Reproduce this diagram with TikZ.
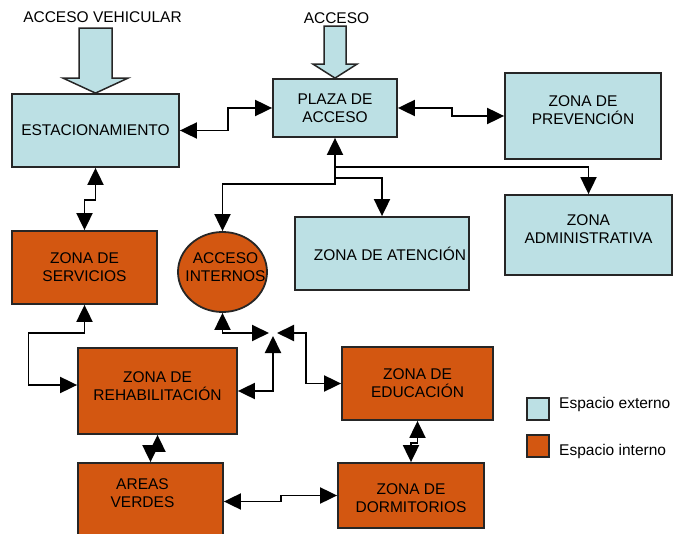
\documentclass[tikz,border=0pt]{standalone}
\usepackage{fontspec}
\setmainfont{Liberation Sans}
\usepackage{xcolor}
\usepackage{tikz}
\usetikzlibrary{arrows.meta,shapes.geometric,calc}
\definecolor{externo}{HTML}{BCE0E4}
\definecolor{interno}{HTML}{D35711}

\begin{document}
\begin{tikzpicture}[
  x=1pt, y=-1pt,
  font=\fontsize{15.5}{18}\selectfont,
  zonebox/.style={draw=black!85, line width=1.8pt, inner sep=0pt, align=center},
  extbox/.style={zonebox, fill=externo},
  intbox/.style={zonebox, fill=interno},
  txt/.style={align=center, inner sep=0pt},
  fatarr/.style={draw=black!85, line width=1.5pt, fill=externo, line join=miter},
  arr/.style={-{Triangle[length=17pt,width=16pt]}, line width=1.9pt},
  darr/.style={{Triangle[length=17pt,width=16pt]}-{Triangle[length=17pt,width=16pt]}, line width=1.9pt}
]
  \clip (0,0) rectangle (674,534);
  % espacios externos
  \node[extbox, minimum width=167, minimum height=73] (estac) at (95.5,130.5) {ESTACIONAMIENTO};
  \node[extbox, minimum width=124, minimum height=58] (plaza) at (335,108) {PLAZA DE\\ACCESO};
  \node[extbox, minimum width=156, minimum height=86,
        label={[txt,yshift=6pt]center:ZONA DE\\PREVENCIÓN}] (prev) at (583,116) {};
  \node[extbox, minimum width=167, minimum height=80,
        label={[txt,yshift=6pt]center:ZONA\\ADMINISTRATIVA}] (admin) at (588.5,235) {};
  \node[extbox, minimum width=174, minimum height=73,
        label={[txt,xshift=8pt]center:ZONA DE ATENCIÓN}] (aten) at (382,253.5) {};
  % espacios internos
  \node[intbox, ellipse, minimum width=89, minimum height=80,
        label={[txt,xshift=3pt,yshift=5pt]center:ACCESO\\INTERNOS}] (acceso) at (222.5,272) {};
  \node[intbox, minimum width=145, minimum height=73] (serv) at (84.5,267.5) {ZONA DE\\SERVICIOS};
  \node[intbox, minimum width=159, minimum height=86,
        label={[txt,yshift=5pt]center:ZONA DE\\REHABILITACIÓN}] (rehab) at (157.5,391) {};
  \node[intbox, minimum width=151, minimum height=73] (educ) at (417.5,383.5) {ZONA DE\\EDUCACIÓN};
  \node[intbox, minimum width=146, minimum height=65,
        label={[txt,yshift=-3pt]center:ZONA DE\\DORMITORIOS}] (dorm) at (411,495.5) {};
  \node[intbox, minimum width=145, minimum height=77,
        label={[txt,xshift=-8pt,yshift=8pt]center:AREAS\\VERDES}] (areas) at (150.5,501.5) {};
  % accesos de fuera
  \node (vehic) at (102.5,17) {ACCESO VEHICULAR};
  \node (peaton) at (336.5,18) {ACCESO};
  \draw[fatarr] (estac.north) -- ++(-32.5,-15) -- ++(16,0) -- ++(0,-50) -- ++(33,0)
    -- ++(0,50) -- ++(16,0) -- cycle;
  \draw[fatarr] (plaza.north) -- ++(-22,-14) -- ++(11,0) -- ++(0,-38) -- ++(22,0)
    -- ++(0,38) -- ++(11,0) -- cycle;
  % conexiones
  \coordinate (cruce) at (273,333);
  \draw[darr] (estac.east) -- ++(48,0) |- (plaza.west);
  \draw[darr] (plaza.east) -- ++(54,0) |- (prev.west);
  \draw[darr] (plaza.south) -- ++(0,46) -| (acceso.north);
  \draw[arr] (plaza.south) ++(0,29) -| (admin.north);
  \draw[arr] (plaza.south) ++(0,40) -| (aten.north);
  \draw[darr] (estac.south) -- ++(0,32) -| (serv.north);
  \draw[darr] (serv.south) -- ++(0,28) -- ++(-56,0) |- ([yshift=6pt]rehab.west);
  \draw[darr] (acceso.south) |- ([xshift=-4pt]cruce);
  \draw[darr] (rehab.east) -| ([yshift=-3pt]cruce);
  \draw[darr] (educ.west) -- ++(-35,0) |- ([xshift=4pt]cruce);
  \draw[darr] (educ.south) -- ++(0,22) -| (dorm.north);
  \draw[darr] (rehab.south) -- ++(0,16) -| (areas.north);
  \draw[darr] (areas.east) -- ++(57,0) |- (dorm.west);
  % leyenda
  \node[extbox, minimum size=22] (lext) at (538,409) {};
  \node[intbox, minimum size=22] (lint) at (538,446) {};
  \node[anchor=west, inner sep=0pt] (text) at (559,404) {Espacio externo};
  \node[anchor=west, inner sep=0pt] (tint) at (559,451) {Espacio interno};
\end{tikzpicture}
\end{document}
